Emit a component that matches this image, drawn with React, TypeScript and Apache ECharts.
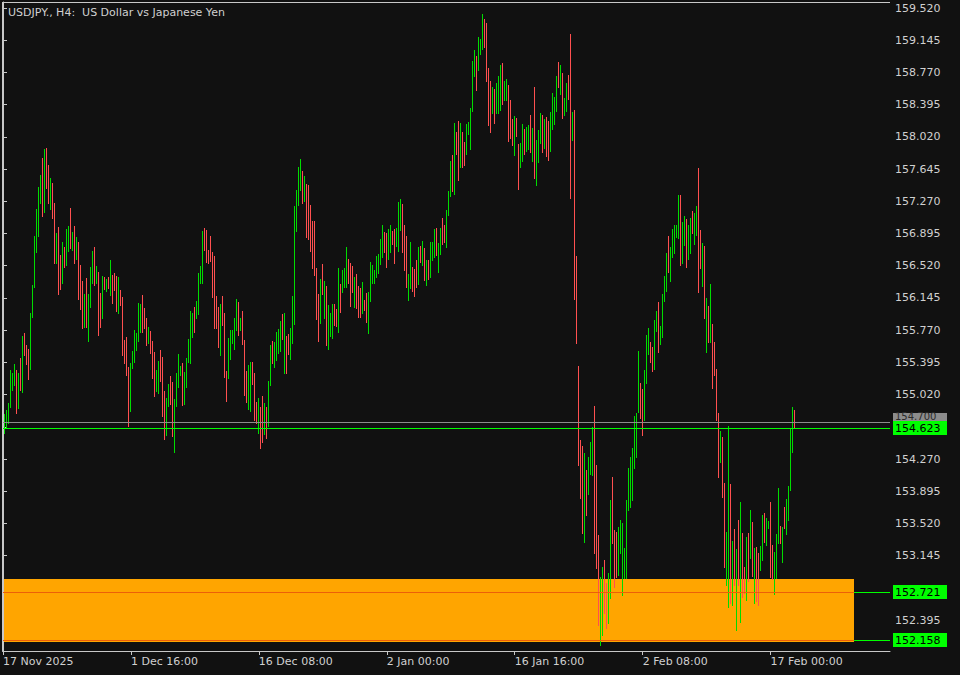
import { useEffect, useRef } from 'react';
import * as echarts from 'echarts';

// ---- DATA (one entry per H4 bar) ----
const barHighs: number[] = [
  154.79,154.84,154.92,155.31,155.27,155.38,155.31,155.27,155.45,155.70,
  155.74,155.60,155.55,155.97,156.30,156.87,157.18,157.44,157.58,157.77,
  157.88,157.89,157.69,157.54,157.48,157.25,156.90,156.97,156.65,156.80,
  156.74,156.95,156.98,157.19,156.91,156.98,156.85,156.80,156.53,156.34,
  156.19,156.38,156.19,156.50,156.69,156.74,156.52,156.45,156.20,156.40,
  156.39,156.37,156.39,156.59,156.41,156.44,156.40,156.39,156.24,156.16,
  155.66,155.69,155.34,155.39,155.53,155.77,155.74,156.09,156.07,156.18,
  156.03,155.91,155.81,155.76,155.64,155.52,155.31,155.41,155.54,155.46,
  155.06,154.98,155.14,155.24,155.17,154.97,155.27,155.49,155.35,155.39,
  155.28,155.45,155.67,155.99,155.97,156.04,156.11,156.44,156.52,156.92,
  156.96,156.94,156.70,156.87,156.68,156.63,156.17,156.04,156.07,156.17,
  155.97,155.29,155.68,155.77,155.77,155.91,156.13,156.10,155.91,155.99,
  155.66,155.29,155.36,155.40,155.40,155.27,154.93,154.98,154.87,155.00,
  154.92,154.87,155.18,155.60,155.64,155.63,155.75,155.78,155.88,155.96,
  155.97,155.70,155.72,155.79,156.17,157.21,157.40,157.67,157.76,157.62,
  157.56,157.47,157.46,157.23,157.04,157.04,156.49,156.19,156.37,156.54,
  156.34,156.28,156.06,155.97,156.07,156.07,156.02,156.49,156.31,156.47,
  156.49,156.74,156.60,156.55,156.52,156.39,156.42,156.28,156.26,156.33,
  156.12,156.20,156.21,156.56,156.53,156.47,156.63,156.66,156.83,156.99,
  156.91,156.90,156.95,156.99,156.92,156.95,156.96,157.26,157.30,157.24,
  156.99,156.87,156.42,156.80,156.50,156.48,156.59,156.74,156.75,156.81,
  156.73,156.59,156.59,156.80,156.80,156.95,156.96,156.78,156.96,157.08,
  156.99,157.17,157.39,157.74,157.81,158.18,158.08,158.20,158.18,158.08,
  157.96,158.17,158.19,158.36,158.90,159.03,158.96,159.18,159.16,159.45,
  159.39,159.35,158.82,158.67,158.60,158.58,158.65,158.73,158.86,158.88,
  158.67,158.69,158.62,158.45,158.23,158.26,158.24,157.94,157.95,158.17,
  158.11,158.13,158.16,158.27,158.12,158.60,157.98,158.10,158.30,158.27,
  158.23,158.25,158.20,158.31,158.53,158.48,158.73,158.89,158.86,158.76,
  158.47,158.65,158.74,159.22,158.31,158.33,156.63,155.35,154.49,154.42,
  154.34,154.14,154.29,154.47,154.64,154.89,154.20,153.39,152.90,153.01,
  153.09,152.83,152.94,153.79,154.06,153.44,153.42,153.48,153.56,153.52,
  153.23,153.79,154.16,154.29,154.40,154.77,154.81,155.53,155.15,155.08,
  155.31,155.71,155.80,155.63,155.57,155.89,155.99,156.10,155.82,156.19,
  156.40,156.67,156.87,156.74,156.95,156.99,156.99,157.34,157.34,157.03,
  157.10,157.06,156.99,157.08,157.16,157.13,157.21,157.66,156.94,156.78,
  156.75,156.14,156.05,156.31,155.84,155.63,155.32,154.81,154.60,154.53,
  153.99,153.42,154.65,153.98,153.31,153.45,153.22,153.56,153.77,153.41,
  153.01,153.36,153.41,153.68,153.54,153.23,153.24,153.18,153.26,153.62,
  153.64,153.58,153.55,153.77,153.27,153.19,153.40,153.93,153.49,153.48,
  153.71,153.80,153.96,154.63,154.88,154.84,
];

const barLows: number[] = [
  154.57,154.64,154.69,154.88,155.07,155.13,154.81,154.86,155.07,155.05,
  155.48,155.38,155.20,155.32,155.92,156.27,156.68,156.87,157.25,157.10,
  157.15,157.42,157.25,157.18,157.08,156.55,156.55,156.19,156.25,156.32,
  156.50,156.53,156.69,156.73,156.70,156.55,156.60,156.13,156.02,155.79,
  155.81,155.81,155.64,156.04,156.32,156.30,156.32,155.71,155.81,155.91,
  156.25,156.23,156.26,156.18,156.09,156.24,155.99,155.97,156.06,155.48,
  155.39,155.25,154.66,154.83,155.33,155.40,155.54,155.64,155.75,155.75,
  155.79,155.60,155.62,155.50,155.21,155.00,155.06,155.04,155.18,154.77,
  154.50,154.55,154.89,154.91,154.54,154.35,154.89,155.11,155.25,154.90,
  154.91,155.11,155.40,155.39,155.69,155.75,155.91,155.96,156.32,156.32,
  156.70,156.56,156.55,156.58,156.16,155.79,155.79,155.57,155.48,155.83,
  155.22,154.95,155.21,155.43,155.62,155.55,155.77,155.71,155.77,155.61,
  155.01,154.93,154.85,154.83,155.14,154.72,154.69,154.57,154.40,154.47,
  154.56,154.51,154.66,155.13,155.39,155.34,155.42,155.50,155.53,155.67,
  155.27,155.27,155.49,155.43,155.62,155.84,156.92,157.23,157.40,157.25,
  157.27,156.85,156.83,156.69,156.49,156.41,155.90,155.64,155.85,156.19,
  155.91,155.60,155.55,155.70,155.68,155.83,155.82,155.75,155.98,156.21,
  156.27,156.27,156.32,156.05,156.21,156.04,156.03,155.92,155.92,155.97,
  156.00,155.87,155.74,156.11,156.32,156.32,156.39,156.44,156.54,156.62,
  156.68,156.50,156.60,156.68,156.77,156.55,156.75,156.69,156.94,156.68,
  156.47,156.27,156.12,156.26,156.23,156.17,156.27,156.31,156.56,156.53,
  156.35,156.30,156.37,156.39,156.59,156.62,156.64,156.45,156.66,156.77,
  156.80,156.74,157.11,157.33,157.39,157.35,157.82,157.52,157.67,157.67,
  157.69,157.82,158.05,157.88,158.32,158.73,158.57,158.80,158.98,159.04,
  159.07,158.67,158.16,158.08,158.30,158.18,158.30,158.30,158.33,158.40,
  158.45,158.45,157.97,158.01,157.93,157.81,158.03,157.41,157.67,157.74,
  157.82,157.86,157.88,157.84,157.74,157.54,157.46,157.73,157.95,157.84,
  157.89,157.80,157.75,157.86,158.11,158.17,158.32,158.60,158.52,158.24,
  158.27,158.32,158.46,157.31,157.98,156.13,155.62,154.20,153.82,153.41,
  153.30,153.62,153.86,154.10,154.08,153.18,153.00,152.34,152.10,152.22,
  152.48,152.30,152.36,152.65,153.29,152.78,152.90,152.92,153.18,152.69,
  152.89,152.89,153.68,153.71,153.79,154.16,154.29,154.82,154.75,154.55,
  154.72,155.15,155.49,155.40,155.29,155.32,155.76,155.52,155.61,155.69,
  156.11,156.23,156.45,156.34,156.62,156.67,156.85,156.84,156.53,156.55,
  156.76,156.50,156.60,156.67,156.90,156.77,156.88,156.21,156.49,156.28,
  155.91,155.52,155.63,155.63,155.10,155.25,154.72,154.06,154.23,153.83,
  153.01,152.80,152.55,152.59,152.57,152.80,152.28,152.80,152.37,152.66,
  152.71,152.63,152.85,153.12,152.91,152.59,152.62,152.57,152.98,153.09,
  153.30,153.27,153.47,152.90,152.87,152.70,152.89,153.29,153.29,153.07,
  153.47,153.40,153.56,153.91,154.35,154.63,
];

// G = bullish bar, R = bearish bar
const barDirections: string = [
  'GGGGGGRGRG','RRRGGGGGGR','GRRGRRGRRG','RGGRGRGRRR','GRGGGRGRRG',
  'RGRGRRRGRR','RRRGGGGGGR','RRGRRRGGRR','RGGRRGGGGR','GGGGGRGG',
  'GG','RRRRRRRRGR','RRGGGGGRGR','RRGGRRRGRR','GRGGRGGGGR','GRRGGGGGGR',
  'GRRRRRRRGR','GRGGGRRGRG','GGRRRGRRRG','RRGGGGGGGG','RRGGRRGG',
  'GR','RRGGRRRGRG','RGRGGGRGGR','RGGGRGRRGR','RGGGGGRGGG','RRRRGRGGGR',
  'GGRRRGRRGG','RGGRGRGGGR','GRRGGGGRGR','GGRRGRRR',
  'RR','GRGGGRRRGG','RRGGRRRGGG','GGGGGGGGRR','GGGRRGGRGG','GGRGGGGGRG',
  'GRGGRGGRRG','RGRGRRRRGR','RGGRGRGRGR','RGRGRGRRGG','RGGRRGGGRG','RGGGGR',
].join('');

// slot 0 is the bar hidden under the left frame; the listed bars start at slot 1
const firstBarSlot = 1;
const timeTickSlots = [0, 64, 128, 192, 256, 320, 384];
const timeTickLabels = ['17 Nov 2025', '1 Dec 16:00', '16 Dec 08:00', '2 Jan 00:00', '16 Jan 16:00', '2 Feb 08:00', '17 Feb 00:00'];

const priceTicks = [159.52, 159.145, 158.77, 158.395, 158.02, 157.645, 157.27, 156.895, 156.52, 156.145,
  155.77, 155.395, 155.02, 154.645, 154.27, 153.895, 153.52, 153.145, 152.77, 152.395];
const priceLabels = [159.52, 159.145, 158.77, 158.395, 158.02, 157.645, 157.27, 156.895, 156.52, 156.145,
  155.77, 155.395, 155.02, 154.27, 153.895, 153.52, 153.145, 152.395];

const askPrice = 154.7;
const bidPrice = 154.623;
const zoneTop = 152.873;
const zoneBottom = 152.14;
const zoneEndSlot = 425.75;
const zoneLevels = [152.721, 152.158];

const chartTitle = 'USDJPY., H4:  US Dollar vs Japanese Yen';

// ---- STYLE ----
const BG = '#111111';
const FG = '#d0d0d0';
const AXIS = '#c8c8c8';
const UP = '#00dc00';
const DOWN = '#ff5050';
const LIME = '#00ff00';
const GRAY = '#8c8c8c';
const ZONE = '#ffa500';
const ZONE_LINE = '#ec6008';
const FONT = 'DejaVu Sans';

export default function App() {
  const ref = useRef<HTMLDivElement>(null);

  useEffect(() => {
    if (!ref.current) return;
    const chart = echarts.init(ref.current, null, { renderer: 'svg' });

    const upData: number[][] = [];
    const downData: number[][] = [];
    barHighs.forEach((h, i) => {
      (barDirections.charAt(i) === 'G' ? upData : downData).push([i + firstBarSlot, barLows[i], h]);
    });
    const levelData = [
      [0, askPrice, 0],
      [0, bidPrice, 1],
      ...zoneLevels.map((p) => [0, p, 2]),
    ];
    const labelMap: Record<number, string> = {};
    timeTickSlots.forEach((b, k) => { labelMap[b] = timeTickLabels[k]; });

    const barSeries = (name: string, data: number[][], color: string) => ({
      type: 'custom',
      name,
      z: 2,
      silent: true,
      data,
      encode: { x: 0, y: [1, 2] },
      itemStyle: { color },
      renderItem: (_params: any, api: any) => {
        const s = api.value(0);
        const lo = api.coord([s, api.value(1)]);
        const hi = api.coord([s, api.value(2)]);
        const x = Math.floor(lo[0]);
        const yTop = Math.round(hi[1]);
        const yBot = Math.round(lo[1]) + 1;
        return {
          type: 'rect',
          shape: { x, y: yTop, width: 1, height: Math.max(1, yBot - yTop) },
          style: { fill: color, stroke: null },
        };
      },
    });

    const option: any = {
      animation: false,
      backgroundColor: BG,
      tooltip: { show: false },
      grid: { left: 2, right: 70, top: 2, bottom: 24, show: false },
      xAxis: {
        type: 'value',
        min: -0.25,
        max: 443.75,
        splitLine: { show: false },
        axisLine: { show: true, lineStyle: { color: AXIS, width: 1 } },
        axisTick: { show: true, length: 4, customValues: timeTickSlots, lineStyle: { color: AXIS } },
        axisLabel: {
          show: true,
          customValues: timeTickSlots,
          formatter: (v: number) => labelMap[Math.round(v)] ?? '',
          align: 'left',
          margin: 5,
          color: FG,
          fontFamily: FONT,
          fontSize: 11,
        },
      },
      yAxis: {
        type: 'value',
        position: 'right',
        min: 152.035,
        max: 159.59,
        scale: true,
        splitLine: { show: false },
        axisLine: { show: true, lineStyle: { color: AXIS, width: 1 } },
        axisTick: { show: true, length: 4, customValues: priceTicks, lineStyle: { color: AXIS } },
        axisLabel: {
          show: true,
          customValues: priceLabels,
          formatter: (v: number) => v.toFixed(3),
          margin: 5,
          color: FG,
          fontFamily: FONT,
          fontSize: 11,
        },
      },
      graphic: [
        { type: 'line', z: 50, shape: { x1: 2.5, y1: 2, x2: 2.5, y2: 651 }, style: { stroke: AXIS, lineWidth: 1 } },
        { type: 'line', z: 50, shape: { x1: 2, y1: 2.5, x2: 890, y2: 2.5 }, style: { stroke: AXIS, lineWidth: 1 } },
        {
          type: 'text', z: 50, x: 8, y: 12,
          style: { text: chartTitle, fill: FG, fontFamily: FONT, fontSize: 11, verticalAlign: 'middle', align: 'left' },
        },
      ],
      series: [
        {
          type: 'custom',
          name: 'zone',
          z: 1,
          silent: true,
          data: [[-0.25, zoneEndSlot, zoneTop, zoneBottom]],
          encode: { x: [0, 1], y: [2, 3] },
          renderItem: (_p: any, api: any) => {
            const a = api.coord([api.value(0), api.value(2)]);
            const b = api.coord([api.value(1), api.value(3)]);
            const x0 = Math.round(a[0]) + 1;
            return {
              type: 'rect',
              shape: { x: x0, y: Math.round(a[1]), width: Math.round(b[0]) - x0, height: Math.round(b[1]) - Math.round(a[1]) },
              style: { fill: ZONE },
            };
          },
        },
        barSeries('Bull bars', upData, UP),
        barSeries('Bear bars', downData, DOWN),
        {
          type: 'custom',
          name: 'levels',
          z: 3,
          silent: true,
          data: levelData,
          encode: { x: 0, y: 1 },
          renderItem: (params: any, api: any) => {
            const cs = params.coordSys;
            const price = api.value(1);
            const kind = api.value(2);
            const y = Math.floor(api.coord([0, price])[1]) + 0.5;
            const left = cs.x;
            const right = cs.x + cs.width;
            const children: any[] = [];
            if (kind === 2) {
              const xe = Math.round(api.coord([zoneEndSlot, price])[0]);
              children.push({ type: 'line', shape: { x1: left, y1: y, x2: xe, y2: y }, style: { stroke: ZONE_LINE, lineWidth: 1 } });
              children.push({ type: 'line', shape: { x1: xe, y1: y, x2: right, y2: y }, style: { stroke: LIME, lineWidth: 1 } });
            } else {
              children.push({ type: 'line', shape: { x1: left, y1: y, x2: right, y2: y }, style: { stroke: kind === 0 ? GRAY : LIME, lineWidth: 1 } });
            }
            const yy = Math.floor(y);
            if (kind === 0) {
              children.push({ type: 'rect', shape: { x: right + 3, y: yy - 9, width: 54, height: 12 }, style: { fill: GRAY } });
              children.push({
                type: 'text', x: right + 5, y: yy - 6,
                style: { text: price.toFixed(3), fill: '#2a2a2a', fontFamily: FONT, fontSize: 10, verticalAlign: 'middle', align: 'left' },
              });
            } else {
              children.push({ type: 'rect', shape: { x: right + 3, y: yy - 7, width: 54, height: 14 }, style: { fill: LIME } });
              children.push({
                type: 'text', x: right + 5, y: yy,
                style: { text: price.toFixed(3), fill: '#000000', fontFamily: FONT, fontSize: 11, verticalAlign: 'middle', align: 'left' },
              });
            }
            return { type: 'group', children };
          },
        },
      ],
    };

    chart.setOption(option);
    return () => chart.dispose();
  }, []);

  return (
    <div style={{ position: 'absolute', left: 0, top: 0, width: 960, height: 675, background: BG }}>
      <div ref={ref} style={{ width: 960, height: 675 }} />
    </div>
  );
}
